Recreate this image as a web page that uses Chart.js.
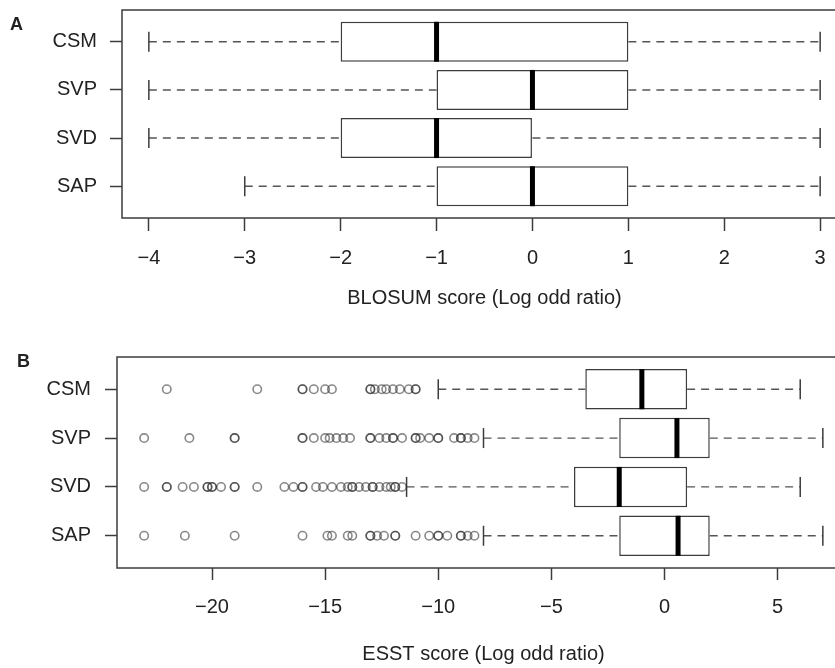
<!DOCTYPE html>
<html>
<head>
<meta charset="utf-8">
<script src="https://cdn.jsdelivr.net/npm/chart.js@4/dist/chart.umd.min.js"></script>
<style>
    body { margin: 0; background: #fff; }
    #page { position: relative; width: 835px; height: 668px; overflow: hidden; background: #fff; }
    #page canvas { position: absolute; left: 0; }
    .panel-tag { position: absolute; font-family: "Liberation Sans", Arial, sans-serif; font-weight: bold; font-size: 18px; color: #222; }
</style>
</head>
<body>
<div id="page">
    <canvas id="blosumChart" width="852" height="330" style="top:0"></canvas>
    <canvas id="esstChart" width="852" height="338" style="top:330px"></canvas>
    <div class="panel-tag" style="left:10px; top:14px">A</div>
    <div class="panel-tag" style="left:17px; top:351px">B</div>
</div>

<script>
// =============================================
// data
// =============================================

const groups = ["CSM", "SVP", "SVD", "SAP"];
const rows = [1, 2, 3, 4];

// A - BLOSUM
const blosumLow = [-4, -4, -4, -3];
const blosumQ1 = [-2, -1, -2, -1];
const blosumMed = [-1, 0, -1, 0];
const blosumQ3 = [1, 1, 0, 1];
const blosumHigh = [3, 3, 3, 3];
const blosumTicks = [-4, -3, -2, -1, 0, 1, 2, 3];

// B - ESST
const esstLow = [-10, -8, -11.4, -8];
const esstQ1 = [-3.5, -2, -4, -2];
const esstMed = [-1, 0.55, -2, 0.6];
const esstQ3 = [1, 2, 1, 2];
const esstHigh = [6, 7, 6, 7];
const esstTicks = [-20, -15, -10, -5, 0, 5];

const csmOut = [-22, -18, -16, -16, -15.5, -15, -14.7, -13, -13, -12.8, -12.5, -12.3, -12, -11.7, -11.3, -11, -11];
const svpOut = [-23, -21, -19, -19, -16, -16, -15.5, -15, -14.8, -14.5, -14.2, -13.9, -13, -13, -12.6, -12.3,
    -12, -12, -11.6, -11, -11, -10.8, -10.4, -10, -10, -9.3, -9, -9, -8.7, -8.4];
const svdOut = [-23, -22, -22, -21.3, -20.8, -20.2, -20.2, -20, -20, -19.6, -19, -19, -18, -16.8, -16.4, -16, -16,
    -15.4, -15.1, -14.7, -14.3, -14, -13.8, -13.8, -13.5, -13.2, -12.9, -12.9, -12.6, -12.3, -12.1, -11.9, -11.9, -11.6];
const sapOut = [-23, -21.2, -19, -16, -14.9, -14.7, -14, -13.8, -13, -13, -12.7, -12.4, -11.9, -11.9, -11,
    -10.4, -10, -10, -9.6, -9, -9, -8.7, -8.4];

// =============================================
// helpers
// =============================================

const FONT = "'Liberation Sans', Arial, sans-serif";
const INK = "#3c3c3c";

function minusSign(v) {
    return String(v).replace("-", "\u2212");
}

const framePlugin = {
    id: "frame",
    afterDatasetsDraw: function(chart) {
        var a = chart.chartArea;
        var ctx = chart.ctx;
        ctx.save();
        ctx.strokeStyle = INK;
        ctx.lineWidth = 1.5;
        ctx.strokeRect(a.left, a.top, a.right - a.left, a.bottom - a.top);
        ctx.restore();
    },
};

function buildBoxDatasets(low, q1, med, q3, high, outliers) {
    var sets = [];

    // outliers (on top)
    if (outliers) {
        var pts = [];
        for (var i = 0; i < outliers.length; i++) {
            for (var k = 0; k < outliers[i].length; k++) {
                pts.push({ x: outliers[i][k], y: rows[i] });
            }
        }
        sets.push({
            type: "line",
            data: pts,
            showLine: false,
            pointStyle: "circle",
            pointRadius: 4.2,
            pointBorderWidth: 1.6,
            pointBorderColor: "rgba(40,40,40,0.55)",
            pointBackgroundColor: "rgba(0,0,0,0)",
        });
    }

    // medians
    sets.push({
        type: "line",
        data: rows.map(function(r, i) { return { x: med[i], y: r }; }),
        showLine: false,
        pointStyle: "line",
        pointRotation: 90,
        pointRadius: 20,
        pointBorderWidth: 5,
        pointBorderColor: "#000",
    });

    // whisker caps
    var caps = [];
    rows.forEach(function(r, i) {
        caps.push({ x: low[i], y: r });
        caps.push({ x: high[i], y: r });
    });
    sets.push({
        type: "line",
        data: caps,
        showLine: false,
        pointStyle: "line",
        pointRotation: 90,
        pointRadius: 10,
        pointBorderWidth: 1.5,
        pointBorderColor: INK,
    });

    // boxes
    sets.push({
        type: "bar",
        data: rows.map(function(r, i) { return { x: [q1[i], q3[i]], y: r }; }),
        backgroundColor: "#fff",
        borderColor: INK,
        borderWidth: 1.5,
        borderSkipped: false,
        barPercentage: 0.83,
        categoryPercentage: 1,
    });

    // dashed whiskers
    rows.forEach(function(r, i) {
        [[low[i], q1[i]], [q3[i], high[i]]].forEach(function(seg) {
            sets.push({
                type: "line",
                data: [{ x: seg[0], y: r }, { x: seg[1], y: r }],
                borderColor: "#555",
                borderWidth: 1.4,
                borderDash: [8, 6],
                pointRadius: 0,
                fill: false,
            });
        });
    });

    return sets;
}

function makeBoxChart(canvasId, cfg) {
    return new Chart(document.getElementById(canvasId), {
        type: "bar",
        data: { datasets: cfg.datasets },
        options: {
            responsive: false,
            animation: false,
            indexAxis: "y",
            layout: {
                autoPadding: false,
                padding: { top: cfg.padTop, right: cfg.padRight, left: 0, bottom: 0 },
            },
            plugins: { legend: { display: false }, tooltip: { enabled: false } },
            scales: {
                x: {
                    type: "linear",
                    min: cfg.xMin,
                    max: cfg.xMax,
                    offset: false,
                    afterBuildTicks: function(scale) {
                        scale.ticks = cfg.ticks.map(function(v) { return { value: v }; });
                    },
                    afterFit: function(scale) {
                        scale.height = cfg.xHeight;
                        scale.paddingLeft = 0;
                        scale.paddingRight = 0;
                    },
                    grid: {
                        display: true,
                        offset: false,
                        drawOnChartArea: false,
                        drawTicks: true,
                        tickLength: cfg.xTickLen,
                        tickColor: INK,
                        tickWidth: 1.5,
                    },
                    border: { display: false },
                    ticks: {
                        autoSkip: false,
                        maxRotation: 0,
                        padding: 15,
                        color: "#222",
                        font: { family: FONT, size: 20 },
                        callback: function(v) { return minusSign(v); },
                    },
                    title: {
                        display: true,
                        text: cfg.title,
                        color: "#222",
                        font: { family: FONT, size: 20 },
                        padding: { top: 0, bottom: cfg.titlePad },
                    },
                },
                y: {
                    type: "linear",
                    reverse: true,
                    min: 0.34,
                    max: 4.66,
                    offset: false,
                    afterBuildTicks: function(scale) {
                        scale.ticks = rows.map(function(v) { return { value: v }; });
                    },
                    afterFit: function(scale) {
                        scale.width = cfg.yWidth;
                        scale.paddingTop = 0;
                        scale.paddingBottom = 0;
                    },
                    grid: {
                        display: true,
                        offset: false,
                        drawOnChartArea: false,
                        drawTicks: true,
                        tickLength: 12,
                        tickColor: INK,
                        tickWidth: 1.5,
                    },
                    border: { display: false },
                    ticks: {
                        autoSkip: false,
                        padding: cfg.yPad,
                        color: "#222",
                        font: { family: FONT, size: 20 },
                        callback: function(v) { return groups[Math.round(v) - 1]; },
                    },
                },
            },
        },
        plugins: [framePlugin],
    });
}

// =============================================
// charts
// =============================================

makeBoxChart("blosumChart", {
    datasets: buildBoxDatasets(blosumLow, blosumQ1, blosumMed, blosumQ3, blosumHigh, null),
    ticks: blosumTicks,
    xMin: -4.28,
    xMax: 3.28,
    title: "BLOSUM score (Log odd ratio)",
    padTop: 10,
    padRight: 5,
    xHeight: 112,
    xTickLen: 13,
    titlePad: 20,
    yWidth: 122,
    yPad: 13,
});

makeBoxChart("esstChart", {
    datasets: buildBoxDatasets(esstLow, esstQ1, esstMed, esstQ3, esstHigh, [csmOut, svpOut, svdOut, sapOut]),
    ticks: esstTicks,
    xMin: -24.2,
    xMax: 8.2,
    title: "ESST score (Log odd ratio)",
    padTop: 27,
    padRight: 2,
    xHeight: 100,
    xTickLen: 12,
    titlePad: 2,
    yWidth: 117,
    yPad: 14,
});
</script>
</body>
</html>
